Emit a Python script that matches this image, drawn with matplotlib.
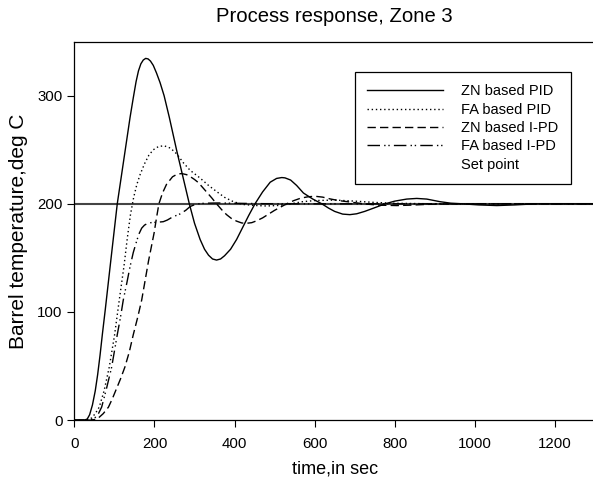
"""Process response of barrel temperature, zone 3."""

import matplotlib

matplotlib.use("Agg")
import matplotlib.pyplot as plt
from matplotlib.lines import Line2D

plt.rcParams["font.family"] = ["Liberation Sans", "DejaVu Sans"]

# values (time in s, temperature in deg C)
zn_pid_t = [0, 25, 32, 38, 45, 52, 58, 64, 70, 77, 84, 91, 99, 107, 115,
            123, 131, 139, 147, 154, 160, 166, 172, 178, 184, 190, 197, 205,
            214, 224, 237, 246, 255, 271, 287, 300, 314, 325, 335, 345, 355,
            365, 375, 390, 405, 420, 435, 451, 470, 489, 505, 518, 526, 540,
            555, 572, 595, 618, 635, 650, 670, 688, 705, 725, 747, 776, 800,
            830, 855, 880, 913, 940, 970, 1010, 1055, 1100, 1150, 1300]
zn_pid_v = [0, 0, 1, 5, 14, 27, 42, 60, 80, 102, 125, 148, 174, 200, 220,
            240, 260, 280, 298, 313, 323, 329.5, 333, 334.5, 334, 332, 328,
            321, 312, 300, 280, 265, 250, 225, 200, 182, 167, 158, 152.5,
            149, 148, 149, 152, 158, 167, 178, 189, 200, 211, 220, 223.5,
            224.3, 224, 222, 217, 210, 204.5, 200, 196, 193, 190.5, 190,
            190.8, 193, 196, 200, 202.5, 204.4, 205, 204.4, 202, 200.6, 200,
            199, 198.4, 199, 200, 200]

fa_pid_t = [0, 30, 37, 43, 52, 62, 74, 87, 100, 112, 124, 132, 140, 148,
            156, 164, 175, 186, 197, 210, 224, 240, 256, 272, 289, 314, 335,
            355, 375, 397, 420, 450, 480, 510, 540, 570, 600, 650, 700, 750,
            800, 900, 1300]
fa_pid_v = [0, 0, 0.8, 2, 6, 12, 27, 49, 78, 111, 143, 168, 190, 206, 218,
            227, 237, 245, 250, 253, 253.7, 251.5, 246, 238, 231, 223.8, 217,
            211.4, 206, 202, 199.5, 198.5, 198, 198.5, 200, 202, 203, 203.5,
            202.5, 201.3, 200.5, 200, 200]

zn_ipd_t = [0, 40, 50, 60, 72, 85, 95, 105, 115, 126, 137, 147, 158, 168,
            177, 185, 192, 199, 205, 211, 220, 230, 245, 257, 268, 280, 290,
            300, 310, 330, 343, 355, 368, 380, 392, 405, 418, 430, 443, 455,
            470, 485, 500, 515, 530, 548, 565, 583, 601, 620, 638, 660, 688,
            722, 760, 805, 840, 880, 950, 1300]
zn_ipd_v = [0, 0, 0.5, 2, 6, 12, 20, 29, 38, 49, 63, 79, 95, 111, 130, 147,
            160, 173, 187, 200, 210, 218, 225, 227.5, 228, 227, 225, 222.5,
            219.5, 211, 205.5, 200, 194.5, 190, 186.5, 184, 182.3, 182, 182.6,
            184.3, 187, 190.5, 194, 197, 200, 203, 205.2, 206.5, 207, 206.2,
            204.6, 203, 201.7, 200, 198.8, 198.4, 198.8, 199.5, 200, 200]

fa_ipd_t = [0, 35, 43, 51, 60, 68, 80, 93, 107, 115, 122, 131, 139, 147,
            155, 161, 168, 175, 183, 193, 208, 222, 232, 245, 264, 278, 289,
            302, 315, 330, 360, 400, 500, 1300]
fa_ipd_v = [0, 0, 0.6, 2, 6, 12, 29, 49, 79, 95, 111, 127, 142, 155, 165,
            172, 177.5, 180.3, 182, 182.7, 183, 183.5, 185, 187.8, 190.7, 194,
            197.5, 199.5, 200.3, 200.6, 200.8, 200.5, 200, 200]

set_point_t = [0, 1300]
set_point_v = [200, 200]

labels = ["ZN based PID", "FA based PID", "ZN based I-PD", "FA based I-PD",
          "Set point"]

fig = plt.figure(figsize=(5.93, 4.84), dpi=100)
ax = fig.add_axes([0.1255, 0.132, 0.8777, 0.782])

ax.plot(set_point_t, set_point_v, color="#444444", lw=1.5, zorder=1)
ax.plot(zn_pid_t, zn_pid_v, color="black", lw=1.0, ls="-")
ax.plot(fa_pid_t, fa_pid_v, color="black", lw=1.0, ls=(0, (1, 2)))
ax.plot(zn_ipd_t, zn_ipd_v, color="black", lw=1.0, ls=(0, (6, 3)))
ax.plot(fa_ipd_t, fa_ipd_v, color="black", lw=1.0,
        ls=(0, (9, 3, 1, 2, 1, 3)))

ax.set_xlim(0, 1300)
ax.set_ylim(0, 350)
ax.set_xticks(range(0, 1201, 200))
ax.set_yticks([0, 100, 200, 300])
ax.tick_params(direction="out", length=5, width=0.8, labelsize=10.8,
               colors="black")
ax.tick_params(axis="x", pad=7)
for side in ["left", "bottom", "top"]:
    ax.spines[side].set_linewidth(0.9)
ax.spines["right"].set_visible(False)

ax.set_title("Process response, Zone 3", fontsize=14.6, pad=14)
ax.set_xlabel("time,in sec", fontsize=13, labelpad=7)
ax.set_ylabel("Barrel temperature,deg C", fontsize=15, labelpad=7)

styles = ["-", (0, (1, 2)), (0, (6, 3)), (0, (9, 3, 1, 2, 1, 3))]
handles = [Line2D([], [], color="black", lw=1.0, ls=s) for s in styles]
handles.append(Line2D([], [], color="none", lw=0))
legend = ax.legend(handles, labels, loc="upper left",
                   bbox_to_anchor=(0.539, 0.92), fontsize=10.5,
                   handlelength=5.2, handletextpad=1.25, labelspacing=0.3,
                   borderpad=0.85, fancybox=False, framealpha=1,
                   edgecolor="black", borderaxespad=0)
legend.get_frame().set_linewidth(0.9)

fig.savefig("out.png", dpi=100)
